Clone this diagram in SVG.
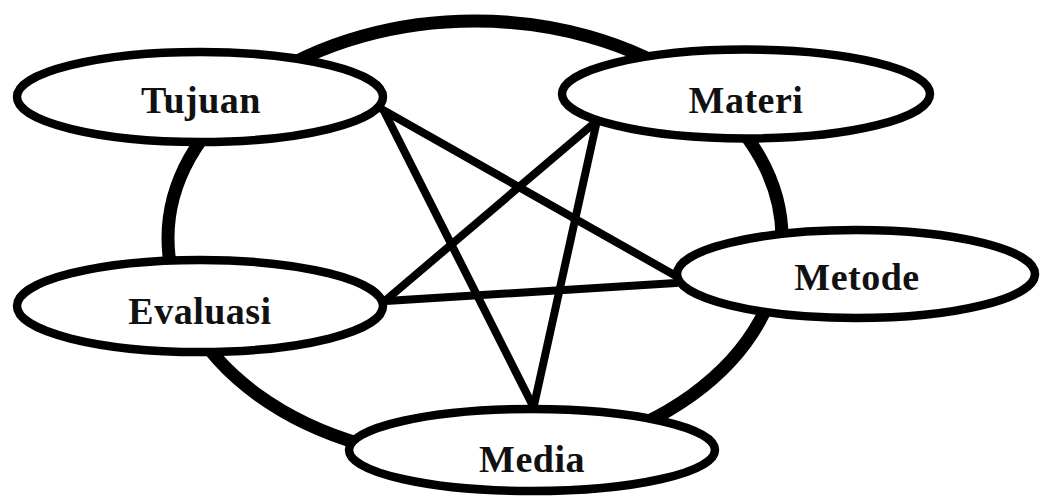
<svg xmlns="http://www.w3.org/2000/svg" width="1040" height="499" viewBox="0 0 1040 499">
  <style>
    .ring { fill: none; stroke: #000; stroke-width: 13; }
    .link { fill: none; stroke: #000; stroke-width: 8; stroke-linecap: round; }
    .node ellipse { fill: #fff; stroke: #000; stroke-width: 8.5; }
    .node text { font-family: "Liberation Serif", "Times New Roman", serif; font-weight: bold; font-size: 38px; fill: #111; text-anchor: middle; letter-spacing: 0.5px; }
  </style>
  <rect width="1040" height="499" fill="#fff"/>
  <path class="ring" d="M 168 238 A 307 217 0 0 1 782 238 A 307 222 0 0 1 168 238 Z"/>
  <g id="connectors">
    <line class="link" x1="383" y1="110" x2="676" y2="276"/>
    <line class="link" x1="385" y1="113" x2="535" y2="410"/>
    <line class="link" x1="596" y1="125" x2="533" y2="410"/>
    <line class="link" x1="592" y1="125" x2="386" y2="300"/>
    <line class="link" x1="386" y1="301" x2="676" y2="283"/>
  </g>
  <g id="tujuan" class="node">
    <ellipse cx="200" cy="97" rx="183" ry="45"/>
    <text x="201" y="113">Tujuan</text>
  </g>
  <g id="materi" class="node">
    <ellipse cx="746" cy="94" rx="184" ry="44.5"/>
    <text x="746" y="113">Materi</text>
  </g>
  <g id="evaluasi" class="node">
    <ellipse cx="200" cy="306" rx="183" ry="46"/>
    <text x="200" y="324">Evaluasi</text>
  </g>
  <g id="metode" class="node">
    <ellipse cx="856" cy="274" rx="179" ry="44"/>
    <text x="857" y="290">Metode</text>
  </g>
  <g id="media" class="node">
    <ellipse cx="532" cy="450" rx="183" ry="41"/>
    <text x="532" y="472">Media</text>
  </g>
</svg>
